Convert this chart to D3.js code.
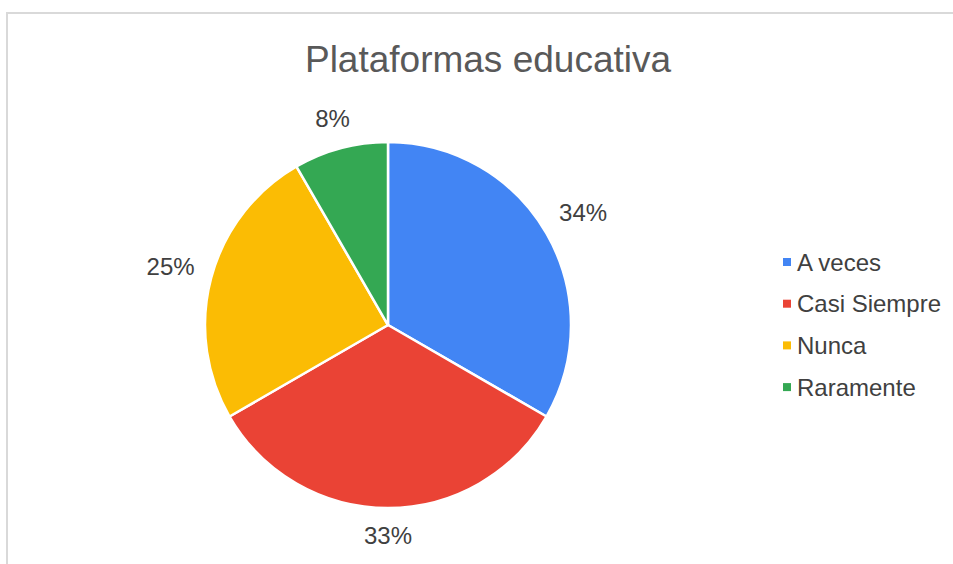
<!DOCTYPE html>
<html>
<head>
<meta charset="utf-8">
<script src="https://cdn.jsdelivr.net/npm/d3@7"></script>
<style>
  body { margin: 0; background: #fff; }
  text { font-family: "Liberation Sans", Arial, sans-serif; }
</style>
</head>
<body>
<div id="chart"></div>
<script>
// data
var categories = ["A veces", "Casi Siempre", "Nunca", "Raramente"];
var counts = [4, 4, 3, 1];
var percentLabels = ["34%", "33%", "25%", "8%"];
var colors = ["#4285F4", "#EA4335", "#FBBC04", "#34A853"];

var width = 953, height = 564;

var svg = d3.select("#chart").append("svg")
    .attr("width", width)
    .attr("height", height);

// frame (only top and left edges fall inside the window)
svg.append("rect")
    .attr("x", 7).attr("y", 13)
    .attr("width", 1000).attr("height", 600)
    .attr("fill", "none")
    .attr("stroke", "#d9d9d9")
    .attr("stroke-width", 2);

svg.append("text")
    .attr("x", 488).attr("y", 72)
    .attr("text-anchor", "middle")
    .style("font-size", "37px")
    .style("fill", "#595959")
    .text("Plataformas educativa");

var cx = 388, cy = 325, radius = 183;

var data = categories.map(function(c, i) {
    return {name: c, value: counts[i], label: percentLabels[i], color: colors[i]};
});

var pie = d3.pie().sort(null).value(function(d) { return d.value; });
var arc = d3.arc().innerRadius(0).outerRadius(radius);

var g = svg.append("g").attr("transform", "translate(" + cx + "," + cy + ")");

var arcs = pie(data);

g.selectAll("path")
    .data(arcs)
    .enter()
    .append("path")
    .attr("d", arc)
    .attr("fill", function(d) { return d.data.color; })
    .attr("stroke", "#fff")
    .attr("stroke-width", 2.5)
    .attr("stroke-linejoin", "round");

// percent labels outside the slices
var labels = g.selectAll(".label")
    .data(arcs)
    .enter()
    .append("text")
    .attr("class", "label")
    .attr("text-anchor", "middle")
    .attr("dominant-baseline", "central")
    .style("font-size", "24px")
    .style("fill", "#404040")
    .text(function(d) { return d.data.label; });

labels.each(function(d) {
    var bb = this.getBBox();
    var a = (d.startAngle + d.endAngle) / 2;
    var s = Math.sin(a), c = Math.cos(a);
    var dist = radius + 16 + (bb.width / 2) * Math.abs(s) + 11 * Math.abs(c);
    d3.select(this)
        .attr("x", dist * s)
        .attr("y", -dist * c);
});

// legend
var legend = svg.append("g").attr("transform", "translate(783,262)");
var rows = legend.selectAll("g")
    .data(data)
    .enter()
    .append("g")
    .attr("transform", function(d, i) { return "translate(0," + (i * 41.7) + ")"; });

rows.append("rect")
    .attr("x", 0).attr("y", -4)
    .attr("width", 8).attr("height", 8)
    .attr("fill", function(d) { return d.color; });

rows.append("text")
    .attr("x", 14).attr("y", 0)
    .attr("dominant-baseline", "central")
    .style("font-size", "24px")
    .style("fill", "#404040")
    .text(function(d) { return d.name; });
</script>
</body>
</html>
